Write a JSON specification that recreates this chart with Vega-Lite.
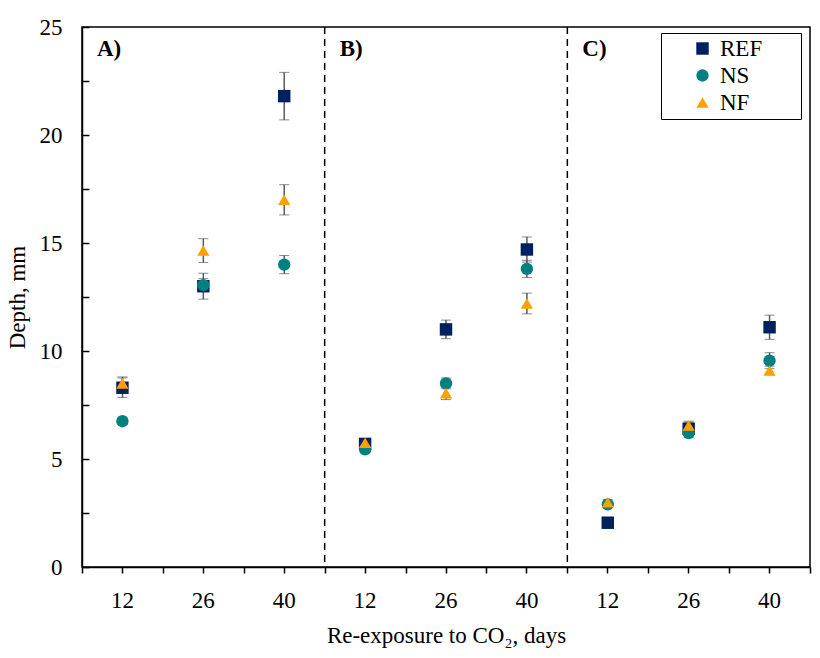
{
  "$schema": "https://vega.github.io/schema/vega-lite/v6.json",
  "width": 728,
  "height": 540,
  "autosize": {"type": "none"},
  "padding": {"left": 82, "top": 27, "right": 10, "bottom": 91},
  "background": "white",
  "config": {
    "font": "Liberation Serif",
    "view": {"stroke": "black", "strokeWidth": 1.5},
    "axis": {
      "labelFont": "Liberation Serif",
      "titleFont": "Liberation Serif",
      "labelColor": "black",
      "titleColor": "black",
      "labelFontSize": 23,
      "titleFontSize": 23,
      "titleFontWeight": "normal",
      "domainColor": "black",
      "tickColor": "black",
      "domainWidth": 1.5,
      "tickWidth": 1.5,
      "grid": false
    }
  },
  "datasets": {
    "depth": [
      {"panel": "A", "day": 12, "key": "A12", "series": "REF", "depth": 8.3, "err": 0.45},
      {"panel": "A", "day": 26, "key": "A26", "series": "REF", "depth": 13.0, "err": 0.6},
      {"panel": "A", "day": 40, "key": "A40", "series": "REF", "depth": 21.8, "err": 1.1},
      {"panel": "B", "day": 12, "key": "B12", "series": "REF", "depth": 5.7, "err": 0.15},
      {"panel": "B", "day": 26, "key": "B26", "series": "REF", "depth": 11.0, "err": 0.43},
      {"panel": "B", "day": 40, "key": "B40", "series": "REF", "depth": 14.7, "err": 0.58},
      {"panel": "C", "day": 12, "key": "C12", "series": "REF", "depth": 2.05, "err": 0.1},
      {"panel": "C", "day": 26, "key": "C26", "series": "REF", "depth": 6.4, "err": 0.3},
      {"panel": "C", "day": 40, "key": "C40", "series": "REF", "depth": 11.1, "err": 0.56},
      {"panel": "A", "day": 12, "key": "A12", "series": "NS", "depth": 6.75, "err": 0.15},
      {"panel": "A", "day": 26, "key": "A26", "series": "NS", "depth": 13.05, "err": 0.3},
      {"panel": "A", "day": 40, "key": "A40", "series": "NS", "depth": 14.0, "err": 0.42},
      {"panel": "B", "day": 12, "key": "B12", "series": "NS", "depth": 5.45, "err": 0.1},
      {"panel": "B", "day": 26, "key": "B26", "series": "NS", "depth": 8.5, "err": 0.25},
      {"panel": "B", "day": 40, "key": "B40", "series": "NS", "depth": 13.8, "err": 0.4},
      {"panel": "C", "day": 12, "key": "C12", "series": "NS", "depth": 2.9, "err": 0.1},
      {"panel": "C", "day": 26, "key": "C26", "series": "NS", "depth": 6.2, "err": 0.2},
      {"panel": "C", "day": 40, "key": "C40", "series": "NS", "depth": 9.55, "err": 0.37},
      {"panel": "A", "day": 12, "key": "A12", "series": "NF", "depth": 8.5, "err": 0.3},
      {"panel": "A", "day": 26, "key": "A26", "series": "NF", "depth": 14.65, "err": 0.55},
      {"panel": "A", "day": 40, "key": "A40", "series": "NF", "depth": 17.0, "err": 0.7},
      {"panel": "B", "day": 12, "key": "B12", "series": "NF", "depth": 5.75, "err": 0.15},
      {"panel": "B", "day": 26, "key": "B26", "series": "NF", "depth": 8.05, "err": 0.3},
      {"panel": "B", "day": 40, "key": "B40", "series": "NF", "depth": 12.2, "err": 0.48},
      {"panel": "C", "day": 12, "key": "C12", "series": "NF", "depth": 3.0, "err": 0.12},
      {"panel": "C", "day": 26, "key": "C26", "series": "NF", "depth": 6.55, "err": 0.2},
      {"panel": "C", "day": 40, "key": "C40", "series": "NF", "depth": 9.1, "err": 0.2}
    ],
    "panels": [
      {"key": "A12", "label": "A)"},
      {"key": "B12", "label": "B)"},
      {"key": "C12", "label": "C)"}
    ]
  },
  "resolve": {"axis": {"x": "independent"}},
  "layer": [
    {
      "data": {"name": "panels"},
      "transform": [{"filter": "datum.key !== 'A12'"}],
      "mark": {"type": "rule", "strokeDash": [7, 5], "strokeWidth": 1.5, "color": "black"},
      "encoding": {
        "x": {
          "field": "key",
          "type": "nominal",
          "bandPosition": 0,
          "scale": {"type": "band", "domain": ["A12", "A26", "A40", "B12", "B26", "B40", "C12", "C26", "C40"], "paddingInner": 0, "paddingOuter": 0},
          "axis": {"orient": "bottom", "tickBand": "extent", "labels": false, "domain": false, "title": null, "tickSize": 6}
        }
      }
    },
    {
      "data": {"name": "depth"},
      "mark": {
        "type": "errorbar",
        "ticks": {"size": 10, "color": "#595959", "strokeWidth": 1.5},
        "rule": {"color": "#595959", "strokeWidth": 1.5}
      },
      "encoding": {
        "x": {
          "field": "key",
          "type": "nominal",
          "scale": {"type": "band", "domain": ["A12", "A26", "A40", "B12", "B26", "B40", "C12", "C26", "C40"], "paddingInner": 0, "paddingOuter": 0},
          "axis": null
        },
        "y": {"field": "depth", "type": "quantitative", "title": "Depth, mm"},
        "yError": {"field": "err"}
      }
    },
    {
      "data": {"name": "depth"},
      "mark": {"type": "point", "filled": true, "opacity": 1},
      "encoding": {
        "x": {
          "field": "key",
          "type": "nominal",
          "scale": {"type": "band", "domain": ["A12", "A26", "A40", "B12", "B26", "B40", "C12", "C26", "C40"], "paddingInner": 0, "paddingOuter": 0},
          "axis": {
            "orient": "bottom",
            "title": "Re-exposure to CO₂, days",
            "labelExpr": "substring(datum.value, 1)",
            "labelAngle": 0,
            "tickSize": 6,
            "labelPadding": 16,
            "titlePadding": 12
          }
        },
        "y": {
          "field": "depth",
          "type": "quantitative",
          "title": "Depth, mm",
          "scale": {"domain": [0, 25], "nice": false},
          "axis": {
            "title": "Depth, mm",
            "values": [0, 2.5, 5, 7.5, 10, 12.5, 15, 17.5, 20, 22.5, 25],
            "labelExpr": "datum.value % 5 === 0 ? datum.label : ''",
            "tickSize": -7,
            "labelPadding": 27,
            "titlePadding": 10
          }
        },
        "size": {
          "field": "series",
          "type": "nominal",
          "scale": {"domain": ["REF", "NS", "NF"], "range": [155, 150, 220]},
          "legend": null
        },
        "color": {
          "field": "series",
          "type": "nominal",
          "scale": {"domain": ["REF", "NS", "NF"], "range": ["#002060", "#008080", "#FFA000"]},
          "legend": {
            "orient": "none",
            "legendX": 579,
            "legendY": 6,
            "title": null,
            "strokeColor": "black",
            "fillColor": "white",
            "padding": 4,
            "labelFont": "Liberation Serif",
            "labelFontSize": 23,
            "labelColor": "black",
            "symbolSize": 100,
            "symbolOffset": 26,
            "labelOffset": 6,
            "rowPadding": 3,
            "labelExpr": "datum.label + '\u00a0\u00a0\u00a0\u00a0\u00a0\u00a0\u200b'"
          }
        },
        "shape": {
          "field": "series",
          "type": "nominal",
          "scale": {"domain": ["REF", "NS", "NF"], "range": ["square", "circle", "triangle-up"]},
          "legend": null
        }
      }
    },
    {
      "data": {"name": "panels"},
      "mark": {"type": "text", "align": "left", "baseline": "middle", "dx": 15, "fontSize": 23, "fontWeight": "bold", "font": "Liberation Serif", "color": "black"},
      "encoding": {
        "x": {
          "field": "key",
          "type": "nominal",
          "bandPosition": 0,
          "scale": {"type": "band", "domain": ["A12", "A26", "A40", "B12", "B26", "B40", "C12", "C26", "C40"], "paddingInner": 0, "paddingOuter": 0},
          "axis": null
        },
        "y": {"datum": 24},
        "text": {"field": "label"}
      }
    }
  ]
}
